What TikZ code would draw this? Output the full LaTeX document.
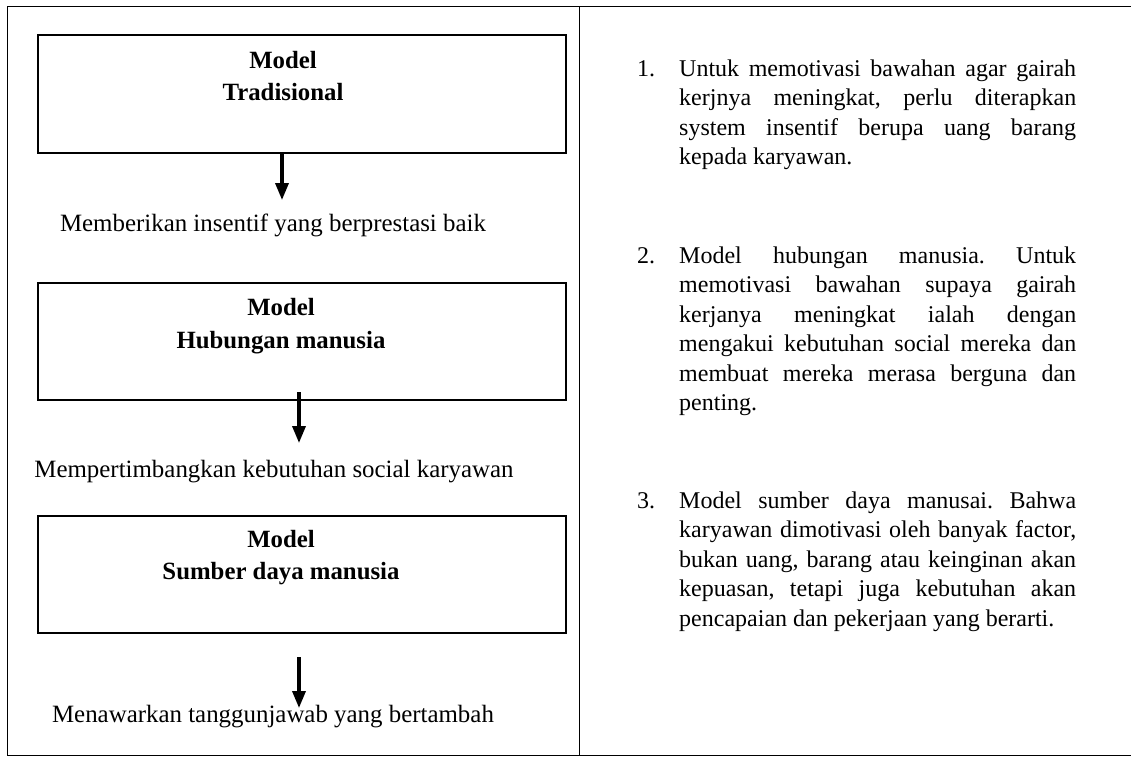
\documentclass[tikz,border=0pt]{standalone}
\usepackage{fontspec}
\setmainfont{Liberation Serif}
\usetikzlibrary{arrows.meta}
\begin{document}
\begin{tikzpicture}[x=1pt,y=-1pt,
 mbox/.style={draw, line width=2.6pt, minimum width=528pt, minimum height=118pt, anchor=north west, inner sep=0pt},
 ttl/.style={font=\fontsize{24.8}{30}\selectfont\bfseries, anchor=base, inner sep=0pt},
 lbl/.style={font=\fontsize{24.9}{29.5}\selectfont, anchor=base, inner sep=0pt},
 flow/.style={line width=3.4pt, -{Triangle[width=13pt,length=17pt]}},
 item/.style={font=\fontsize{24}{29.5}\selectfont\frenchspacing, anchor=base west, inner sep=0pt, text width=397pt, align=justify},
 num/.style={font=\fontsize{24}{29.5}\selectfont, anchor=base west, inner sep=0pt},
 frame/.style={line width=1pt}]
\useasboundingbox (0,0) rectangle (1131,756);
% table frame
\coordinate (tl) at (7,6);
\coordinate (tr) at (1131,6);
\coordinate (bl) at (7,755);
\coordinate (br) at (1131,755);
\coordinate (dt) at (579,6);
\coordinate (db) at (579,755);
\draw[frame] (tr) -- (tl) -- (bl) -- (br);
\draw[frame] (dt) -- (db);
% boxes
\node[mbox] (b1) at (36.5,33.5) {};
\node[mbox, minimum height=117pt] (b2) at (36.5,281.5) {};
\node[mbox, minimum height=117pt] (b3) at (36.5,514.5) {};
\node[ttl] (t1a) at (283,68) {Model};
\node[ttl] (t1b) at (283,100) {Tradisional};
\node[ttl] (t2a) at (281,315) {Model};
\node[ttl] (t2b) at (281,348) {Hubungan manusia};
\node[ttl] (t3a) at (281,547) {Model};
\node[ttl] (t3b) at (281,579) {Sumber daya manusia};
% labels
\node[lbl] (l1) at (273,231) {Memberikan insentif yang berprestasi baik};
\node[lbl] (l2) at (274,477) {Mempertimbangkan kebutuhan social karyawan};
\node[lbl] (l3) at (273,722) {Menawarkan tanggunjawab yang bertambah};
% arrows
\coordinate (a1s) at (282,152);
\coordinate (a1e) at (282,200);
\coordinate (a2s) at (299,392);
\coordinate (a2e) at (299,443);
\coordinate (a3s) at (299,657);
\coordinate (a3e) at (299,708);
\draw[flow] (a1s) -- (a1e);
\draw[flow] (a2s) -- (a2e);
\draw[flow] (a3s) -- (a3e);
% right column
\node[num] (n1) at (637,76) {1.};
\node[item] (i1) at (679,76) {Untuk memotivasi bawahan agar gairah\linebreak
kerjnya meningkat, perlu diterapkan\linebreak
system insentif berupa uang barang\linebreak
kepada karyawan.};
\node[num] (n2) at (637,263) {2.};
\node[item] (i2) at (679,263) {Model hubungan manusia. Untuk\linebreak
memotivasi bawahan supaya gairah\linebreak
kerjanya meningkat ialah dengan\linebreak
mengakui kebutuhan social mereka dan\linebreak
membuat mereka merasa berguna dan\linebreak
penting.};
\node[num] (n3) at (637,508) {3.};
\node[item] (i3) at (679,508) {Model sumber daya manusai. Bahwa\linebreak
karyawan dimotivasi oleh banyak factor,\linebreak
bukan uang, barang atau keinginan akan\linebreak
kepuasan, tetapi juga kebutuhan akan\linebreak
pencapaian dan pekerjaan yang berarti.};
\end{tikzpicture}
\end{document}
